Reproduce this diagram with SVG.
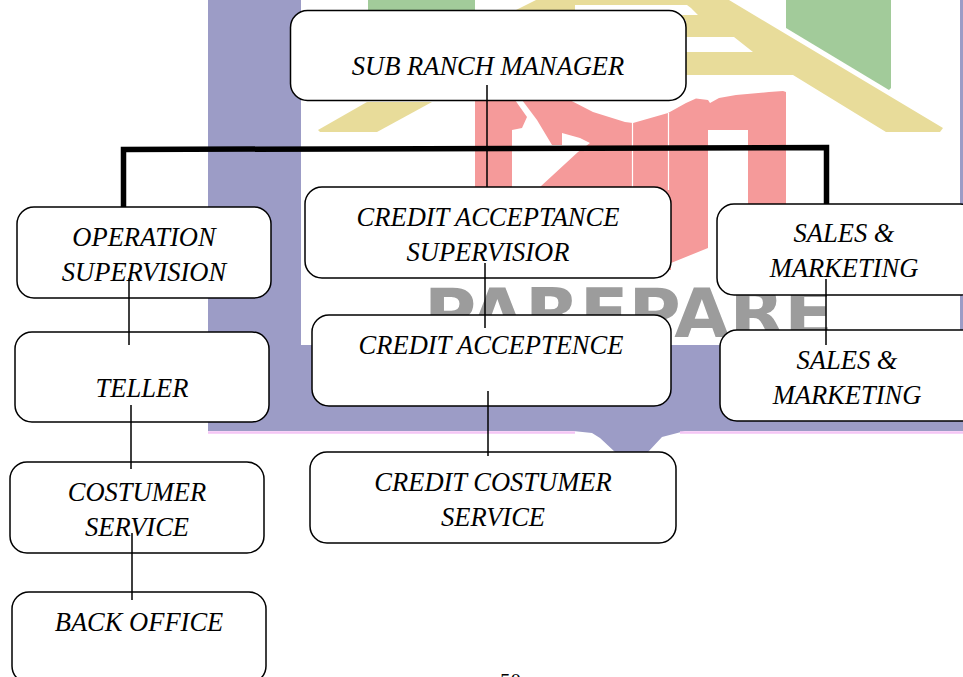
<svg xmlns="http://www.w3.org/2000/svg" width="963" height="677" viewBox="0 0 963 677">
<style>
.box{fill:#fff;stroke:#000;stroke-width:1.5}
.t{font-family:"Liberation Serif","Times New Roman",serif;font-style:italic;font-size:26.500px;fill:#000;text-anchor:middle}
.c{stroke:#000;stroke-width:1.5;fill:none}
</style>
<rect width="963" height="677" fill="#fff"/>
<g id="watermark">
<path d="M208 0H301V345H960V0H963V431H685L662 437L648 452H615L600 438L592 433L573 431H208Z" fill="#9c9cc6"/>
<path d="M208 432.500H575M680 432.500H963" stroke="#f5c5f5" stroke-width="2.500" fill="none"/>
<path d="M368 0H475V30H368Z" fill="#a2cb9a"/>
<path d="M786 0H891V88L889 90L786 28Z" fill="#a2cb9a"/>
<path d="M536 0H729L943 128L940 132H886L793 75H686V20H516V10Z" fill="#e8dc9a"/>
<path d="M575 5H687L691 8L698 15H575ZM686 37H734L753 52H686Z" fill="#fff"/>
<path d="M318 130L367 102H432L377 132H320Z" fill="#e8dc9a"/>
<path d="M475 95H560L593 112L625 122L633 123L668 113L686 103L696 98.500L708 100L710 103L719 98L736 95L769 92L783 91L786 92V210H748V130H708V248L671 263V270H475Z" fill="#f59a9a"/>
<path d="M512 130L522 128L527 117L515 100H522L537 120L552 145H562V133L580 138L590 143L578 152L540 187H512Z" fill="#fff"/>
<path d="M632.500 122V190M668.500 113V190" stroke="#fff" stroke-width="1.200" fill="none"/>
<text x="424" y="337" font-family="'DejaVu Sans',sans-serif" font-weight="700" font-size="67" fill="#9c9c9c" textLength="409" lengthAdjust="spacingAndGlyphs">PAREPARE</text>
</g>
<g id="n-manager"><rect class="box" x="290.500" y="10.500" width="395.500" height="90" rx="17"/><text class="t" x="488" y="74.500">SUB RANCH MANAGER</text></g>
<g id="n-credit-supervisor"><rect class="box" x="305" y="187" width="366" height="91" rx="17"/><text class="t" x="488" y="225.500">CREDIT ACCEPTANCE</text><text class="t" x="488" y="260.500">SUPERVISIOR</text></g>
<g id="n-operation"><rect class="box" x="17" y="207" width="254" height="91" rx="17"/><text class="t" x="144" y="245.500">OPERATION</text><text class="t" x="144" y="280.500">SUPERVISION</text></g>
<g id="n-sales1"><rect class="box" x="717" y="204" width="260" height="91" rx="17"/><text class="t" x="844" y="241.500">SALES &amp;</text><text class="t" x="844" y="276.500">MARKETING</text></g>
<g id="n-teller"><rect class="box" x="15" y="332" width="254" height="90" rx="17"/><text class="t" x="142" y="396.500">TELLER</text></g>
<g id="n-credit-acceptence"><rect class="box" x="312" y="315" width="359" height="91" rx="17"/><text class="t" x="491" y="353.500">CREDIT ACCEPTENCE</text></g>
<g id="n-sales2"><rect class="box" x="720" y="330" width="260" height="91" rx="17"/><text class="t" x="847" y="368.500">SALES &amp;</text><text class="t" x="847" y="403.500">MARKETING</text></g>
<g id="n-costumer"><rect class="box" x="10" y="462" width="254" height="91" rx="17"/><text class="t" x="137" y="500.500">COSTUMER</text><text class="t" x="137" y="535.500">SERVICE</text></g>
<g id="n-credit-costumer"><rect class="box" x="310" y="452" width="366" height="91" rx="17"/><text class="t" x="493" y="490.500">CREDIT COSTUMER</text><text class="t" x="493" y="525.500">SERVICE</text></g>
<g id="n-back"><rect class="box" x="12" y="592" width="254" height="91" rx="17"/><text class="t" x="139" y="630.500">BACK OFFICE</text></g>
<g id="connectors">
<path d="M123.500 207V149.500L826.500 147.500V204" fill="none" stroke="#000" stroke-width="5.500"/>
<path class="c" d="M487 85V187M129 278V345M131 405V469M132 533V600M485 263V328M488 391V456M826 279V345"/>
</g>
<text x="500" y="688" font-family="'Liberation Serif',serif" font-size="21" fill="#000">50</text>
</svg>
